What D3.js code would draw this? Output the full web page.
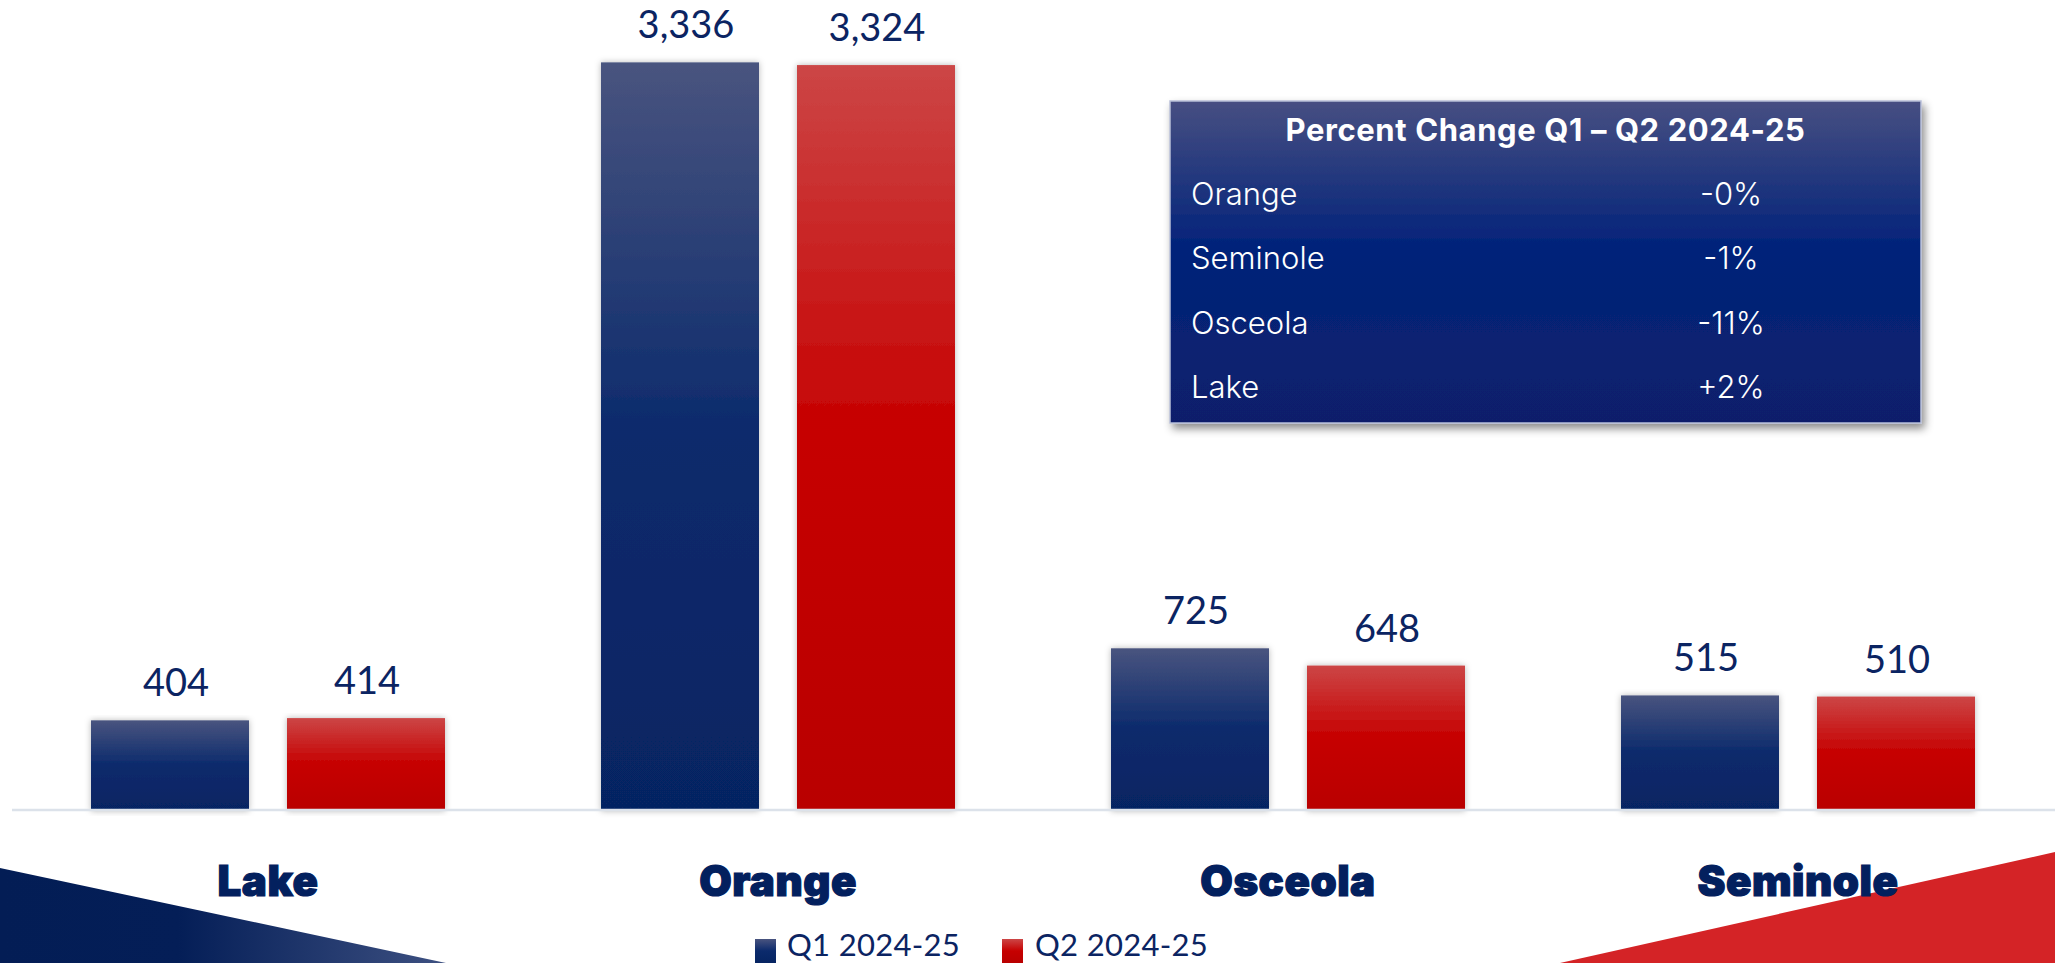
<!DOCTYPE html>
<html>
<head>
<meta charset="utf-8">
<script src="https://cdn.jsdelivr.net/npm/d3@7"></script>
<style>
  html, body { margin: 0; padding: 0; background: #ffffff; overflow: hidden; }
  svg { display: block; }
</style>
</head>
<body>
<svg id="chart" width="2055" height="963"></svg>
<script>
// County totals for the two quarters
const categories = ["Lake", "Orange", "Osceola", "Seminole"];
const seriesNames = ["Q1 2024-25", "Q2 2024-25"];
const q1Values = [404, 3336, 725, 515];
const q2Values = [414, 3324, 648, 510];

// Percent-change table
const tableTitle = "Percent Change Q1 \u2013 Q2 2024-25";
const changeCounties = ["Orange", "Seminole", "Osceola", "Lake"];
const changeLabels = ["-0%", "-1%", "-11%", "+2%"];

const W = 2055, H = 963;
const navyText = "#0b2462";
const bodyFont = "Lato, 'Open Sans', sans-serif";
const heavyFont = "Inter, 'Noto Sans', Lato, sans-serif";

const svg = d3.select("#chart");
const defs = svg.append("defs");

// Bar gradients (per bar bounding box)
function vGrad(id, stops) {
  const g = defs.append("linearGradient").attr("id", id)
    .attr("x1", 0).attr("y1", 0).attr("x2", 0).attr("y2", 1);
  stops.forEach(([o, c]) => g.append("stop").attr("offset", o).attr("stop-color", c));
}
vGrad("gQ1", [[0, "#49547f"], [0.5, "#0b2a6c"], [1, "#062462"]]);
vGrad("gQ2", [[0, "#cc4646"], [0.5, "#c60000"], [1, "#b90000"]]);
vGrad("gBox", [[0, "#474f82"], [0.45, "#03237a"], [1, "#0b1f6b"]]);

const lg = defs.append("linearGradient").attr("id", "gLeft")
  .attr("gradientUnits", "userSpaceOnUse")
  .attr("x1", 0).attr("y1", 0).attr("x2", 446).attr("y2", 0);
lg.append("stop").attr("offset", 0).attr("stop-color", "#031d55");
lg.append("stop").attr("offset", 0.4).attr("stop-color", "#041e57");
lg.append("stop").attr("offset", 1).attr("stop-color", "#3d5081");

const barShadow = defs.append("filter").attr("id", "barShadow")
  .attr("x", "-20%").attr("y", "-5%").attr("width", "140%").attr("height", "110%");
barShadow.append("feDropShadow").attr("dx", 0).attr("dy", 0)
  .attr("stdDeviation", 3).attr("flood-color", "#000").attr("flood-opacity", 0.28);

const boxShadow = defs.append("filter").attr("id", "boxShadow")
  .attr("x", "-5%").attr("y", "-5%").attr("width", "115%").attr("height", "120%");
boxShadow.append("feDropShadow").attr("dx", 3).attr("dy", 5)
  .attr("stdDeviation", 4).attr("flood-color", "#000").attr("flood-opacity", 0.45);

// Corner decorations
svg.append("polygon")
  .attr("points", [[0, 868], [446, 963], [0, 963]].map(p => p.join(",")).join(" "))
  .attr("fill", "url(#gLeft)");
svg.append("polygon")
  .attr("points", [[2055, 852], [1560, 963], [2055, 963]].map(p => p.join(",")).join(" "))
  .attr("fill", "#d42326");

// Scales
const x0 = d3.scaleBand().domain(categories).range([13, 2053]).padding(0);
const x1 = d3.scaleBand().domain(seriesNames).range([0, x0.bandwidth()])
  .paddingInner(0.1939).paddingOuter(0.398);
const y = d3.scaleLinear().domain([0, 3614]).range([811, 0]);

const rows = categories.map((c, i) => ({
  category: c,
  values: [
    { series: seriesNames[0], value: q1Values[i], fill: "url(#gQ1)", dx: 6 },
    { series: seriesNames[1], value: q2Values[i], fill: "url(#gQ2)", dx: 1 }
  ]
}));

const groups = svg.append("g").selectAll("g").data(rows).join("g")
  .attr("transform", d => `translate(${x0(d.category)},0)`);

groups.selectAll("rect").data(d => d.values).join("rect")
  .attr("x", d => x1(d.series))
  .attr("y", d => y(d.value))
  .attr("width", x1.bandwidth())
  .attr("height", d => y(0) - y(d.value))
  .attr("fill", d => d.fill)
  .attr("filter", "url(#barShadow)");

groups.selectAll("text.val").data(d => d.values).join("text")
  .attr("class", "val")
  .attr("x", d => x1(d.series) + x1.bandwidth() / 2 + d.dx)
  .attr("y", d => y(d.value) - 24)
  .attr("text-anchor", "middle")
  .attr("font-family", bodyFont)
  .attr("font-size", 38)
  .attr("fill", navyText)
  .text(d => d3.format(",")(d.value));

// Baseline
svg.append("line")
  .attr("x1", 12).attr("x2", W)
  .attr("y1", y(0) - 1).attr("y2", y(0) - 1)
  .attr("stroke", "#dce2ea").attr("stroke-width", 2.5);

// Category labels
svg.append("g").selectAll("text").data(categories).join("text")
  .attr("x", d => x0(d) + x0.bandwidth() / 2)
  .attr("y", 896)
  .attr("text-anchor", "middle")
  .attr("font-family", heavyFont)
  .attr("font-weight", 900)
  .attr("font-size", 42)
  .attr("letter-spacing", 0.5)
  .attr("fill", "#03205e")
  .attr("stroke", "#03205e")
  .attr("stroke-width", 1.2)
  .text(d => d);

// Legend
const legendItems = [
  { name: seriesNames[0], fill: "url(#gQ1)", mx: 755, tx: 787 },
  { name: seriesNames[1], fill: "url(#gQ2)", mx: 1002, tx: 1035 }
];
const legend = svg.append("g").selectAll("g").data(legendItems).join("g");
legend.append("rect")
  .attr("x", d => d.mx).attr("y", 939).attr("width", 21).attr("height", 24)
  .attr("fill", d => d.fill);
legend.append("text")
  .attr("x", d => d.tx).attr("y", 956)
  .attr("font-family", bodyFont).attr("font-size", 31)
  .attr("letter-spacing", 0.3)
  .attr("fill", navyText)
  .text(d => d.name);

// Percent-change table
const box = { x: 1170, y: 101, w: 751, h: 322 };
const tbl = svg.append("g");
tbl.append("rect")
  .attr("x", box.x).attr("y", box.y).attr("width", box.w).attr("height", box.h)
  .attr("fill", "url(#gBox)")
  .attr("stroke", "#b9c0d8").attr("stroke-width", 1.5)
  .attr("filter", "url(#boxShadow)");
tbl.append("text")
  .attr("x", box.x + box.w / 2).attr("y", 141)
  .attr("text-anchor", "middle")
  .attr("font-family", heavyFont).attr("font-weight", 700).attr("font-size", 31)
  .attr("letter-spacing", 0.6)
  .attr("fill", "#ffffff")
  .text(tableTitle);

const rowY = d3.scalePoint().domain(changeCounties).range([205, 398]);
tbl.selectAll("text.county").data(changeCounties).join("text")
  .attr("class", "county")
  .attr("x", 1191).attr("y", d => rowY(d))
  .attr("font-family", heavyFont).attr("font-weight", 300).attr("font-size", 31)
  .attr("fill", "#ffffff")
  .text(d => d);
tbl.selectAll("text.pct").data(changeLabels).join("text")
  .attr("class", "pct")
  .attr("x", 1731).attr("y", (d, i) => rowY(changeCounties[i]))
  .attr("text-anchor", "middle")
  .attr("font-family", heavyFont).attr("font-weight", 300).attr("font-size", 31)
  .attr("fill", "#ffffff")
  .text(d => d);
</script>
</body>
</html>
